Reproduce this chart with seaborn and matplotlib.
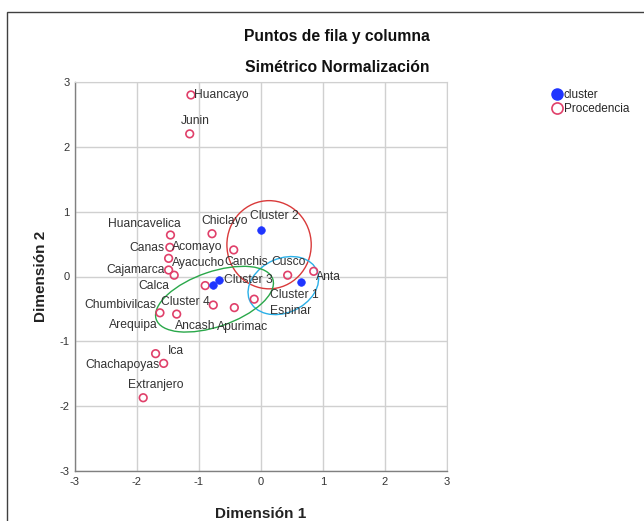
import matplotlib
matplotlib.use("Agg")
import matplotlib.pyplot as plt
import seaborn as sns
import pandas as pd
from matplotlib.patches import Ellipse, Rectangle
from matplotlib.lines import Line2D

# ---- data ----
proc_names = ["Huancayo", "Junin", "Huancavelica", "Chiclayo", "Canas", "Canchis",
              "Acomayo", "Cajamarca", "Ayacucho", "Calca", "Arequipa", "Apurimac",
              "Espinar", "Cusco", "Anta", "Chumbivilcas", "Ancash", "Ica",
              "Chachapoyas", "Extranjero"]
proc_x = [-1.13, -1.15, -1.46, -0.79, -1.47, -0.44, -1.49, -1.49, -1.40, -0.90,
          -0.77, -0.43, -0.11, 0.43, 0.85, -1.63, -1.36, -1.70, -1.57, -1.90]
proc_y = [2.80, 2.20, 0.64, 0.66, 0.45, 0.41, 0.28, 0.10, 0.02, -0.14,
          -0.44, -0.48, -0.35, 0.02, 0.08, -0.56, -0.58, -1.19, -1.34, -1.87]

clus_names = ["Cluster 1", "Cluster 2", "Cluster 3", "Cluster 4"]
clus_x = [0.65, 0.00, -0.67, -0.78]
clus_y = [-0.09, 0.72, -0.05, -0.13]

# label offsets in pixels (dx, dy, ha)
proc_off = [(3, 0, "left"), (6, 13, "center"), (-26, 11, "center"), (13, 13, "center"),
            (-5, -1, "right"), (13, -12, "center"), (29, 11, "center"), (-4, 0, "right"),
            (24, 12, "center"), (-51, 0, "center"), (-80, -20, "center"), (8, -19, "center"),
            (36, -12, "center"), (1, 13, "center"), (15, -6, "center"), (-4, 8, "right"),
            (-2, -12, "left"), (20, 3, "center"), (-4, -2, "right"), (13, 13, "center")]
clus_off = [(-7, -13, "center"), (13, 14, "center"), (5, 0, "left"), (-27, -17, "center")]

df = pd.DataFrame({
    "x": proc_x + clus_x,
    "y": proc_y + clus_y,
    "name": proc_names + clus_names,
    "tipo": ["Procedencia"] * len(proc_x) + ["cluster"] * len(clus_x),
})

sns.set_style("white")
plt.rcParams["font.family"] = ["Liberation Sans", "DejaVu Sans"]
plt.rcParams["axes.unicode_minus"] = False

fig = plt.figure(figsize=(6.44, 5.21), dpi=100)
fig.patches.append(Rectangle((7 / 644, -0.1), 2, 1.1 - 12 / 521,
                             transform=fig.transFigure, fill=False,
                             edgecolor="#404040", linewidth=1.0))
ax = fig.add_axes([75 / 644, 1 - 471 / 521, 372 / 644, 389 / 521])

red = "#e0406a"
blue = "#1f35ff"

sub_p = df[df.tipo == "Procedencia"]
sub_c = df[df.tipo == "cluster"]
sns.scatterplot(data=sub_p, x="x", y="y", ax=ax, marker="o", s=30,
                facecolor="none", edgecolor=red, linewidth=1.2, zorder=3, legend=False)
sns.scatterplot(data=sub_c, x="x", y="y", ax=ax, marker="o", s=30,
                color=blue, edgecolor=blue, linewidth=0.5, zorder=3, legend=False)

txtc = "#333333"
for (n, px, py), (dx, dy, ha) in zip(zip(proc_names, proc_x, proc_y), proc_off):
    ax.annotate(n, (px, py), xytext=(dx, dy), textcoords="offset pixels",
                ha=ha, va="center", fontsize=8.7, color=txtc, zorder=4)
for (n, px, py), (dx, dy, ha) in zip(zip(clus_names, clus_x, clus_y), clus_off):
    ax.annotate(n, (px, py), xytext=(dx, dy), textcoords="offset pixels",
                ha=ha, va="center", fontsize=8.7, color=txtc, zorder=4)

# hand-drawn group ellipses
ax.add_patch(Ellipse((0.13, 0.49), 1.36, 1.36, fill=False, edgecolor="#d93a3a", lw=1.0, zorder=2))
ax.add_patch(Ellipse((0.36, -0.14), 1.18, 0.84, angle=22, fill=False, edgecolor="#2ab0e8", lw=1.0, zorder=2))
ax.add_patch(Ellipse((-0.75, -0.35), 1.98, 0.85, angle=18, fill=False, edgecolor="#2aa84a", lw=1.0, zorder=2))

ax.set_xlim(-3, 3)
ax.set_ylim(-3, 3)
ax.set_xticks(range(-3, 4))
ax.set_yticks(range(-3, 4))
ax.grid(True, color="#d0d0d0", linewidth=1.0)
ax.set_axisbelow(True)
for s in ["top", "right"]:
    ax.spines[s].set_color("#d0d0d0")
for s in ["left", "bottom"]:
    ax.spines[s].set_color("#808080")
    ax.spines[s].set_linewidth(1.0)
ax.tick_params(axis="both", labelsize=8, colors="#333333", length=0, pad=4)
ax.set_xlabel("Dimensión 1", fontsize=11, fontweight="bold", color="#222222", labelpad=15)
ax.set_ylabel("Dimensión 2", fontsize=11, fontweight="bold", color="#222222", labelpad=8)

fig.text(337 / 644, 1 - 37 / 521, "Puntos de fila y columna", ha="center", va="center",
         fontsize=11.3, fontweight="bold", color="#111111")
fig.text(337 / 644, 1 - 68 / 521, "Simétrico Normalización", ha="center", va="center",
         fontsize=11.3, fontweight="bold", color="#111111")

handles = [Line2D([], [], marker="o", linestyle="none", markersize=8,
                  markerfacecolor=blue, markeredgecolor=blue, label="cluster"),
           Line2D([], [], marker="o", linestyle="none", markersize=8,
                  markerfacecolor="none", markeredgecolor=red, markeredgewidth=1.2,
                  label="Procedencia")]
fig.legend(handles=handles, loc="upper left", bbox_to_anchor=(545 / 644, 1 - 83 / 521),
           frameon=False, fontsize=8.5, handletextpad=0.1, labelspacing=0.2,
           borderpad=0, handlelength=1.0)

fig.savefig("out.png", dpi=100)
